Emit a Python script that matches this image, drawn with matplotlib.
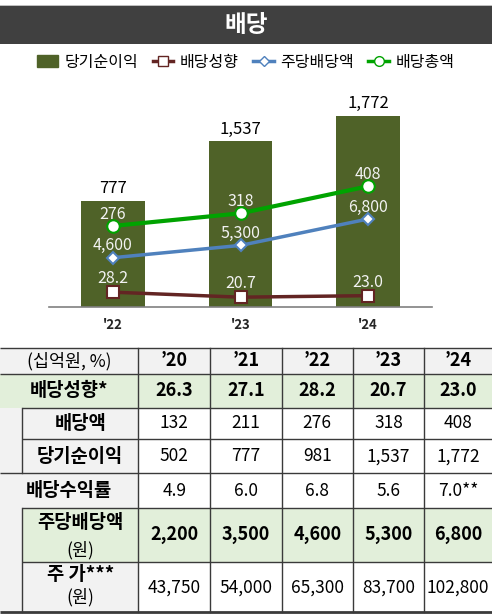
import matplotlib
matplotlib.use("Agg")
import matplotlib.pyplot as plt
from matplotlib.patches import Rectangle
from matplotlib.lines import Line2D

plt.rcParams['font.family'] = ['Noto Sans CJK KR', 'DejaVu Sans']

# ---- data (table) ----
years = ['’20', '’21', '’22', '’23', '’24']
payout = [26.3, 27.1, 28.2, 20.7, 23.0]          # 배당성향*
div_total = [132, 211, 276, 318, 408]            # 배당액
net_income = [502, 777, 981, 1537, 1772]         # 당기순이익
div_yield = [4.9, 6.0, 6.8, 5.6, 7.0]            # 배당수익률
dps = [2200, 3500, 4600, 5300, 6800]             # 주당배당액
price = [43750, 54000, 65300, 83700, 102800]     # 주가

# ---- data (chart) ----
chart_years = ["'22", "'23", "'24"]
bar_vals = net_income[2:]
bar_labels = [777, 1537, 1772]   # as printed on the chart
payout_c = payout[2:]
dps_c = dps[2:]
total_c = div_total[2:]

OLIVE = '#4F6228'
GREEN = '#00A300'
BLUE = '#4F81BD'
RED = '#632523'
LGREEN = '#E2EFDA'
LGRAY = '#F2F2F2'
LINE = '#3A3A3A'

W, H = 492, 614
fig = plt.figure(figsize=(W / 100, H / 100), dpi=100)
fig.patch.set_facecolor('white')

# overlay in pixel coordinates for title bar and table
ov = fig.add_axes([0, 0, 1, 1], zorder=0)
ov.set_xlim(0, W)
ov.set_ylim(H, 0)
ov.axis('off')

ov.add_patch(Rectangle((0, 5), W, 1, color='#BFBFBF', lw=0))
ov.add_patch(Rectangle((0, 6), W, 38, color='#404040', lw=0))
ov.text(W / 2, 25, '배당', color='white', fontsize=17, fontweight='bold',
        ha='center', va='center')

# ---- chart ----
base_px, top_px = 307, 100
left_px, right_px = 49, 432
ax = fig.add_axes([left_px / W, (H - base_px) / H, (right_px - left_px) / W,
                   (base_px - top_px) / H], zorder=2)
x = range(len(chart_years))
ax.bar(x, bar_vals, width=0.5, color=OLIVE, zorder=1)
ax.set_xlim(-0.5, 2.5)
ax.set_ylim(0, 1922)
for s in ['top', 'right', 'left']:
    ax.spines[s].set_visible(False)
ax.spines['bottom'].set_color('#808080')
ax.spines['bottom'].set_linewidth(1.2)
ax.set_yticks([])
ax.set_xticks(list(x))
ax.set_xticklabels(chart_years, fontsize=9.5, fontweight='bold', color='#262626')
ax.tick_params(axis='x', length=0, pad=8)
ax.patch.set_alpha(0)
for xi, v, lab in zip(x, bar_vals, bar_labels):
    ax.annotate(f'{lab:,}', (xi, v), xytext=(0, 9), textcoords='offset points',
                ha='center', va='center', fontsize=12, color='black')


def line_axis(vals, ylim, color, marker, ms, lw, fmt, off):
    a = ax.twinx()
    a.set_ylim(*ylim)
    a.axis('off')
    a.plot(list(x), vals, color=color, lw=lw, marker=marker, ms=ms,
           mfc='white', mec=color, mew=1.5, zorder=3)
    for xi, v in zip(x, vals):
        a.annotate(fmt(v), (xi, v), xytext=(0, off), textcoords='offset points',
                   ha='center', va='center', fontsize=11.5, color='#F2F2F2')
    return a


line_axis(payout_c, (6, 316), RED, 's', 8, 2.5, lambda v: f'{v:.1f}', 9.5)
line_axis(dps_c, (1800, 13560), BLUE, 'D', 6, 2.5, lambda v: f'{v:,}', 8.5)
line_axis(total_c, (6.6, 694.8), GREEN, 'o', 9, 3, lambda v: f'{v:,}', 8.5)

handles = [
    Rectangle((0, 0), 1, 1, color=OLIVE),
    Line2D([], [], color=RED, lw=2.5, marker='s', ms=7, mfc='white', mec=RED),
    Line2D([], [], color=BLUE, lw=2.5, marker='D', ms=5.5, mfc='white', mec=BLUE),
    Line2D([], [], color=GREEN, lw=2.5, marker='o', ms=7, mfc='white', mec=GREEN),
]
fig.legend(handles, ['당기순이익', '배당성향', '주당배당액', '배당총액'], ncol=4,
           loc='center', bbox_to_anchor=(0.5, 1 - 62 / H), frameon=False,
           fontsize=11.5, handlelength=1.3, handletextpad=0.4, columnspacing=0.9)

# ---- table ----
rows_y = [347.5, 374.3, 407.5, 439.3, 473.3, 507.7, 562.3, 611.7]
cols_x = [138.3, 210, 281.7, 352.7, 424, 492]
indent = 22


def fill(x0, y0, x1, y1, c):
    ov.add_patch(Rectangle((x0, y0), x1 - x0, y1 - y0, color=c, lw=0))


row_bg = [LGRAY, LGREEN, 'white', 'white', 'white', LGREEN, 'white']
label_bg = [LGRAY, LGREEN, LGRAY, LGRAY, LGRAY, LGREEN, LGRAY]
for i in range(7):
    y0, y1 = rows_y[i], rows_y[i + 1]
    fill(0, y0, W, y1, LGRAY)
    lx = indent if i in (2, 3, 5, 6) else 0
    fill(lx, y0, cols_x[0], y1, label_bg[i])
    fill(cols_x[0], y0, W, y1, row_bg[i])

# grid lines
def hline(y, x0, lw=1.0):
    ov.plot([x0, W], [y, y], color=LINE, lw=lw, solid_capstyle='butt')

hline(rows_y[0], 0)
hline(rows_y[1], 0)
hline(rows_y[2], indent)
hline(rows_y[3], indent)
hline(rows_y[4], 0)
hline(rows_y[5], indent)
hline(rows_y[6], indent)
hline(rows_y[7], 0, lw=2.0)
for cx in cols_x[:-1]:
    ov.plot([cx, cx], [rows_y[0], rows_y[7]], color=LINE, lw=1.0)
ov.plot([indent, indent], [rows_y[2], rows_y[4]], color=LINE, lw=1.0)
ov.plot([indent, indent], [rows_y[5], rows_y[7]], color=LINE, lw=1.0)

centers = [(cols_x[i] + cols_x[i + 1]) / 2 for i in range(5)]


def row_text(i, vals, bold, dy=0):
    yc = (rows_y[i] + rows_y[i + 1]) / 2 + dy
    for cx, t in zip(centers, vals):
        ov.text(cx, yc, t, ha='center', va='center', fontsize=13 if bold else 12.5,
                fontweight='bold' if bold else 'normal', color='black')


def label(i, t, x0, bold=True, dy=0, size=13.5):
    yc = (rows_y[i] + rows_y[i + 1]) / 2 + dy
    ov.text((x0 + cols_x[0]) / 2, yc, t, ha='center', va='center', fontsize=size,
            fontweight='bold' if bold else 'normal', color='black')


label(0, '(십억원, %)', 0, bold=False, size=12.5)
row_text(0, years, True)
label(1, '배당성향*', 0)
row_text(1, [f'{v:.1f}' for v in payout], True)
label(2, '배당액', indent)
row_text(2, [f'{v:,}' for v in div_total], False)
label(3, '당기순이익', indent)
row_text(3, [f'{v:,}' for v in net_income], False)
label(4, '배당수익률', 0)
row_text(4, [f'{v:.1f}' for v in div_yield[:-1]] + [f'{div_yield[-1]:.1f}**'], False)
label(5, '주당배당액', indent, dy=-13)
label(5, '(원)', indent, bold=False, dy=15, size=12.5)
row_text(5, [f'{v:,}' for v in dps], True)
label(6, '주 가***', indent, dy=-12)
label(6, '(원)', indent, bold=False, dy=10, size=12.5)
row_text(6, [f'{v:,}' for v in price], False, dy=1)

fig.savefig('out.png', dpi=100)
